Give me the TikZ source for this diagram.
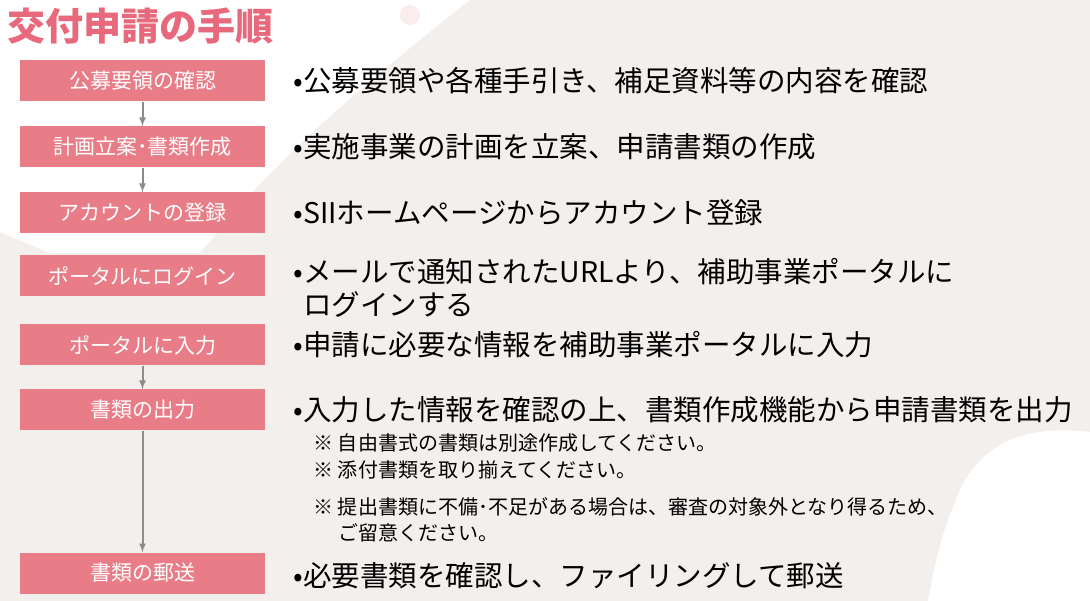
\documentclass[tikz,border=0pt]{standalone}
\usepackage{fontspec}
\setmainfont{Noto Sans CJK JP}
\usetikzlibrary{positioning}
\definecolor{pinkbox}{HTML}{E87D88}
\definecolor{titlered}{HTML}{E8687C}
\definecolor{beige}{HTML}{F3EFED}
\definecolor{arrowgray}{HTML}{8C8C8C}
\tikzset{%
    stepbox/.style={%
        fill=pinkbox,
        text=white,
        minimum width=245pt,
        minimum height=41pt,
        font=\fontsize{21}{21}\selectfont,
    },
    desc/.style={%
        anchor=west,
        align=left,
        font=\fontsize{28.5}{33}\selectfont,
    },
    note/.style={%
        anchor=west,
        align=left,
        font=\fontsize{20}{26}\selectfont,
    },
    flow/.style={%
        -latex,
        line width=2pt,
        arrowgray,
    },
}

\begin{document}
\begin{tikzpicture}[x=1pt, y=-1pt]

    %%%%%%%%%%%%%%
    % Background %
    %%%%%%%%%%%%%%
    \useasboundingbox (0, 0) rectangle (1090, 601);
    \fill[beige] (0, 0) rectangle (1090, 601);
    \fill[white] (0, 0) -- (470, 0) .. controls (380, 70) and (300, 140) .. (250, 195)
        -- (200, 253) -- (50, 253) -- (0, 232) -- cycle;
    \fill[white] (1090, 432) .. controls (1030, 425) and (990, 440) .. (965, 480)
        .. controls (945, 520) and (935, 560) .. (928, 601) -- (1090, 601) -- cycle;
    \fill[pinkbox!15] (410, 15) circle (10);

    \node[anchor=west, text=titlered, font=\bfseries\fontsize{38}{38}\selectfont]
        (title) at (4, 26) {交付申請の手順};

    %%%%%%%%%
    % Steps %
    %%%%%%%%%
    \foreach \i/\y/\lab in {%
        1/81/公募要領の確認,
        2/147/計画立案･書類作成,
        3/213/アカウントの登録,
        4/276/ポータルにログイン,
        5/345/ポータルに入力,
        6/410/書類の出力,
        7/573/書類の郵送%
    }{%
        \node[stepbox] (step-\i) at (142.5, \y) {\lab};
    };

    \foreach \a/\b in {1/2, 2/3, 5/6, 6/7}{%
        \draw[flow] (step-\a.south) -- (step-\b.north);
    };

    % Descriptions
    \node[desc] (desc-1) at (290, 81) {•公募要領や各種手引き、補足資料等の内容を確認};
    \node[desc] (desc-2) at (290, 147) {•実施事業の計画を立案、申請書類の作成};
    \node[desc] (desc-3) at (290, 213) {•SIIホームページからアカウント登録};
    \node[desc] (desc-4) at (290, 288) {•メールで通知されたURLより、補助事業ポータルに\\
        \hphantom{•}ログインする};
    \node[desc] (desc-5) at (290, 345) {•申請に必要な情報を補助事業ポータルに入力};
    \node[desc] (desc-6) at (290, 410) {•入力した情報を確認の上、書類作成機能から申請書類を出力};
    \node[desc] (desc-7) at (290, 576) {•必要書類を確認し、ファイリングして郵送};

    % Notes
    \node[note] (note-1) at (310, 443) {※ 自由書式の書類は別途作成してください。};
    \node[note] (note-2) at (310, 470) {※ 添付書類を取り揃えてください。};
    \node[note] (note-3) at (310, 520) {※ 提出書類に不備･不足がある場合は、審査の対象外となり得るため、\\
        \hphantom{※ }ご留意ください。};

\end{tikzpicture}
\end{document}
